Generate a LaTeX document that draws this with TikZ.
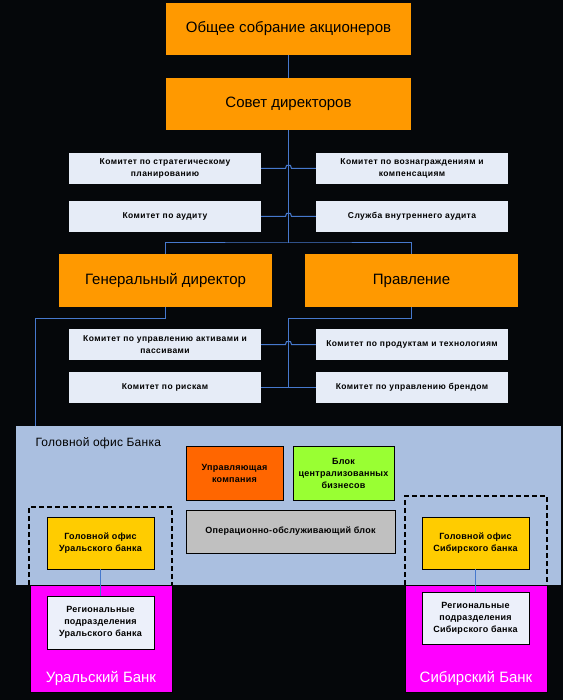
\documentclass[tikz,border=0pt]{standalone}
\usepackage{fontspec}
\setmainfont{Liberation Sans}
\usepackage{tikz}

\definecolor{govorange}{RGB}{255,153,0}
\definecolor{paleblue}{RGB}{230,236,247}
\definecolor{linkblue}{RGB}{70,120,205}
\definecolor{hqblue}{RGB}{170,191,224}
\definecolor{mgmtorange}{RGB}{255,102,0}
\definecolor{bizgreen}{RGB}{153,255,51}
\definecolor{opsgray}{RGB}{192,192,192}
\definecolor{officeyellow}{RGB}{255,204,0}
\definecolor{regionmag}{RGB}{255,0,255}
\definecolor{regionpale}{RGB}{236,240,250}
\definecolor{nightbg}{RGB}{5,7,10}

\tikzset{
  govbox/.style={fill=govorange, inner sep=0pt, font=\fontsize{15}{17}\selectfont},
  committee/.style={fill=paleblue, minimum width=192pt, minimum height=31pt, inner sep=0pt,
    text width=186pt, align=center, font=\fontsize{8.5}{12}\selectfont\bfseries\addfontfeatures{LetterSpace=5}},
  unitbox/.style={draw=black, inner sep=0pt, align=center, font=\fontsize{9}{12}\selectfont\bfseries\addfontfeatures{LetterSpace=3}},
  link/.style={draw=linkblue, line width=1pt},
  thinlink/.style={draw=linkblue, line width=0.6pt},
  frame/.style={draw=black, line width=1.6pt, dash pattern=on 5pt off 3pt},
}

% small hop where a committee line crosses the trunk
\newcommand{\hopline}[3]{\draw[link] (#1.east) -- ([xshift=-3pt]#1.east -| #3) -- ++(1,-3) -- ++(4,0) -- ++(1,3) -- (#2.west);}

\begin{document}
\begin{tikzpicture}[x=1pt, y=-1pt]
  \useasboundingbox (0,0) rectangle (563,700);
  \fill[nightbg] (0,0) rectangle (563,700);

  % governing bodies
  \node[govbox, minimum width=245pt, minimum height=52pt] (meeting) at (288.5,29) {Общее собрание акционеров};
  \node[govbox, minimum width=245pt, minimum height=52pt] (board) at (288.5,104) {Совет директоров};
  \node[govbox, minimum width=213pt, minimum height=53pt] (ceo) at (165.5,280.5) {Генеральный директор};
  \node[govbox, minimum width=213pt, minimum height=53pt] (mgmt) at (411.5,280.5) {Правление};

  % committees
  \node[committee] (stratc) at (165,168.5) {Комитет по стратегическому\\ планированию};
  \node[committee] (rewardc) at (412,168.5) {Комитет по вознаграждениям и\\ компенсациям};
  \node[committee] (auditc) at (165,216.5) {Комитет по аудиту};
  \node[committee] (intaudit) at (412,216.5) {Служба внутреннего аудита};
  \node[committee] (alcoc) at (165,344.5) {Комитет по управлению активами и\\ пассивами};
  \node[committee] (prodc) at (412,344.5) {Комитет по продуктам и технологиям};
  \node[committee] (riskc) at (165,387.5) {Комитет по рискам};
  \node[committee] (brandc) at (412,387.5) {Комитет по управлению брендом};

  % head office area and regions
  \node[fill=hqblue, minimum width=545pt, minimum height=159pt, inner sep=0pt] (hq) at (288.5,505.5) {};
  \node[anchor=west, font=\fontsize{12}{14}\selectfont\addfontfeatures{LetterSpace=2}] (hqlabel) at (32,443) {Головной офис Банка};
  \node[fill=regionmag, draw=black, line width=0.6pt, minimum width=142pt, minimum height=107pt, inner sep=0pt] (uralreg) at (101,638.5) {};
  \node[fill=regionmag, draw=black, line width=0.6pt, minimum width=142pt, minimum height=107pt, inner sep=0pt] (sibreg) at (476,638.5) {};
  \draw[frame] (29,585) -- (29,507) -- (172,507) -- (172,585);
  \draw[frame] (405,585) -- (405,496) -- (547,496) -- (547,585);

  \node[unitbox, fill=mgmtorange, minimum width=97pt, minimum height=54pt] (amc) at (234.5,473) {Управляющая\\ компания};
  \node[unitbox, fill=bizgreen, minimum width=101pt, minimum height=54pt] (cbiz) at (343.5,473) {Блок\\ централизованных\\ бизнесов};
  \node[unitbox, fill=opsgray, minimum width=209pt, minimum height=43pt] (ops) at (290.5,531.5) {Операционно-обслуживающий блок};

  \node[unitbox, fill=officeyellow, minimum width=107pt, minimum height=52pt] (uralho) at (100.5,543) {Головной офис\\ Уральского банка};
  \node[unitbox, fill=regionpale, minimum width=107pt, minimum height=53pt] (uralsub) at (100.5,622.5) {Региональные\\ подразделения\\ Уральского банка};
  \node[unitbox, fill=officeyellow, minimum width=107pt, minimum height=52pt] (sibho) at (475.5,543) {Головной офис\\ Сибирского банка};
  \node[unitbox, fill=regionpale, minimum width=107pt, minimum height=52pt] (sibsub) at (475.5,618) {Региональные\\ подразделения\\ Сибирского банка};

  \node[white, font=\fontsize{15}{17}\selectfont] (urallabel) at (101,678) {Уральский Банк};
  \node[white, font=\fontsize{15}{17}\selectfont] (siblabel) at (476,678) {Сибирский Банк};

  % connectors
  \coordinate (fork) at (288.5,243);
  \draw[link] (meeting.south) -- (board.north);
  \draw[link] (board.south) -- (fork);
  \draw[link] (ceo.north) |- (fork) -| (mgmt.north);
  \hopline{stratc}{rewardc}{board.south}
  \hopline{auditc}{intaudit}{board.south}
  \draw[link] (ceo.south) -- ++(0,11) -| ([xshift=20pt]hq.north west);
  \draw[link] (mgmt.south) -- ++(0,11) -| (board.south |- riskc.east);
  \hopline{alcoc}{prodc}{board.south}
  \draw[link] (riskc.east) -- (brandc.west);
  \draw[thinlink] (uralho.south) -- (uralsub.north);
  \draw[thinlink] (sibho.south) -- (sibsub.north);
\end{tikzpicture}
\end{document}
